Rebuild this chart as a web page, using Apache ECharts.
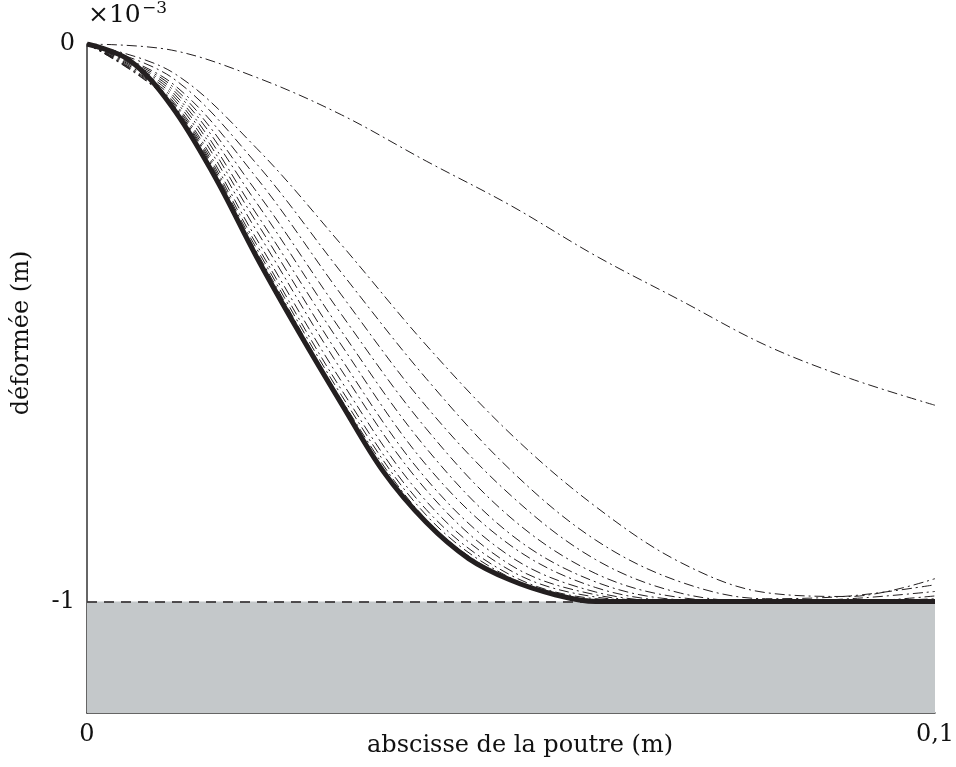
<!DOCTYPE html>
<html>
<head>
<meta charset="utf-8">
<script src="https://cdn.jsdelivr.net/npm/echarts@6/dist/echarts.min.js"></script>
<style>
  html, body { margin: 0; padding: 0; background: #fff; }
  #chart { width: 956px; height: 767px; }
</style>
</head>
<body>
<div id="chart"></div>
<script>
// abscisses (m) et déformées (x 1e-3 m)
var xs = [0, 0.01, 0.02, 0.03, 0.04, 0.05, 0.06, 0.07, 0.08, 0.09, 0.1];
var xsFinal = [0, 0.005, 0.01, 0.015, 0.02, 0.025, 0.03, 0.035, 0.04, 0.045, 0.05, 0.055, 0.06, 0.07, 0.08, 0.09, 0.1];

// courbes intermédiaires (trait mixte), de la plus haute à la plus proche de la finale
var courbeA  = [0, -0.011, -0.06, -0.127, -0.21, -0.29, -0.38, -0.46, -0.54, -0.60, -0.648];
var courbeB  = [0, -0.05, -0.187, -0.36, -0.54, -0.70, -0.83, -0.93, -0.984, -0.991, -0.959];
var courbeC1 = [0, -0.06, -0.215, -0.41, -0.60, -0.765, -0.89, -0.965, -0.995, -0.99, -0.97];
var courbeC2 = [0, -0.07, -0.24, -0.45, -0.65, -0.81, -0.925, -0.985, -1.0, -0.995, -0.982];
var courbeC3 = [0, -0.075, -0.265, -0.485, -0.69, -0.85, -0.95, -0.993, -1.0, -1.0, -0.99];
var courbeC4 = [0, -0.08, -0.285, -0.515, -0.725, -0.88, -0.965, -0.997, -1.0, -1.0, -0.995];
var courbeC5 = [0, -0.085, -0.305, -0.54, -0.755, -0.9, -0.975, -0.999, -1.0, -1.0, -0.998];
var courbeC6 = [0, -0.09, -0.32, -0.565, -0.78, -0.92, -0.983, -1.0, -1.0, -1.0, -1.0];
var courbeC7 = [0, -0.095, -0.335, -0.585, -0.80, -0.935, -0.988, -1.0, -1.0, -1.0, -1.0];
var courbeC8 = [0, -0.1, -0.35, -0.605, -0.82, -0.945, -0.992, -1.0, -1.0, -1.0, -1.0];
var courbeC9 = [0, -0.103, -0.36, -0.62, -0.835, -0.953, -0.995, -1.0, -1.0, -1.0, -1.0];
var courbeC10 = [0, -0.106, -0.367, -0.63, -0.845, -0.958, -0.997, -1.0, -1.0, -1.0, -1.0];
var courbeC11 = [0, -0.108, -0.373, -0.638, -0.853, -0.962, -0.998, -1.0, -1.0, -1.0, -1.0];

// déformée finale (trait épais)
var courbeFinale = [0, -0.029, -0.112, -0.236, -0.382, -0.517, -0.645, -0.768, -0.858, -0.923, -0.962, -0.987, -1.0, -1.0, -1.0, -1.0, -1.0];

var butee = -1;       // position de l'obstacle
var yMin = -1.2;

var intermediaires = [courbeA, courbeB, courbeC1, courbeC2, courbeC3, courbeC4, courbeC5,
  courbeC6, courbeC7, courbeC8, courbeC9, courbeC10, courbeC11];

function paires(x, y) {
  return x.map(function (v, i) { return [v, y[i]]; });
}

var police = "'DejaVu Serif', 'Liberation Serif', serif";

var series = intermediaires.map(function (c) {
  return {
    type: 'line',
    data: paires(xs, c),
    smooth: 0.35,
    symbol: 'none',
    z: 3,
    lineStyle: { color: '#231f20', width: 1, type: [10, 4, 2, 4] }
  };
});

// zone grise + ligne pointillée de la butée
series.unshift({
  type: 'line',
  data: [],
  z: 1,
  markArea: {
    silent: true,
    itemStyle: { color: '#c4c8ca' },
    data: [[{ xAxis: 0, yAxis: yMin }, { xAxis: 0.1, yAxis: butee }]]
  },
  markLine: {
    silent: true,
    symbol: 'none',
    label: { show: false },
    lineStyle: { color: '#231f20', width: 1.6, type: [10, 7] },
    data: [{ yAxis: butee }]
  }
});

series.push({
  type: 'line',
  data: paires(xsFinal, courbeFinale),
  smooth: 0.35,
  symbol: 'none',
  z: 5,
  lineStyle: { color: '#231f20', width: 5 }
});

var myChart = echarts.init(document.getElementById('chart'));
var option = {
  animation: false,
  backgroundColor: '#fff',
  grid: { left: 87, right: 21, top: 44, bottom: 54, containLabel: false, outerBoundsMode: 'none' },
  xAxis: {
    type: 'value',
    min: 0,
    max: 0.1,
    interval: 0.1,
    axisLine: { onZero: false, lineStyle: { color: '#333', width: 1.5 } },
    axisTick: { show: false },
    splitLine: { show: false },
    axisLabel: {
      margin: 10,
      color: '#111',
      fontFamily: police,
      fontSize: 24,
      formatter: function (v) { return v === 0 ? '0' : '0,1'; }
    }
  },
  yAxis: {
    type: 'value',
    min: yMin,
    max: 0,
    interval: 0.2,
    axisLine: { show: true, onZero: false, lineStyle: { color: '#333', width: 1.5 } },
    axisTick: { show: false },
    splitLine: { show: false },
    axisLabel: {
      margin: 12,
      color: '#111',
      fontFamily: police,
      fontSize: 24,
      formatter: function (v) {
        if (Math.abs(v) < 1e-9) return '0';
        if (Math.abs(v + 1) < 1e-9) return '-1';
        return '';
      }
    }
  },
  graphic: [
    {
      type: 'text',
      left: 88, top: 3,
      style: { text: '×10', font: '25px ' + police, fill: '#111' }
    },
    {
      type: 'text',
      left: 142, top: 0,
      style: { text: '−3', font: '17px ' + police, fill: '#111' }
    },
    {
      type: 'text',
      x: 22, y: 333,
      rotation: Math.PI / 2,
      style: {
        text: 'déformée (m)', font: '24px ' + police, fill: '#111',
        align: 'center', verticalAlign: 'middle'
      }
    },
    {
      type: 'text',
      x: 520, y: 746,
      style: {
        text: 'abscisse de la poutre (m)', font: '24px ' + police, fill: '#111',
        align: 'center', verticalAlign: 'middle'
      }
    }
  ],
  series: series
};
myChart.setOption(option);
</script>
</body>
</html>
